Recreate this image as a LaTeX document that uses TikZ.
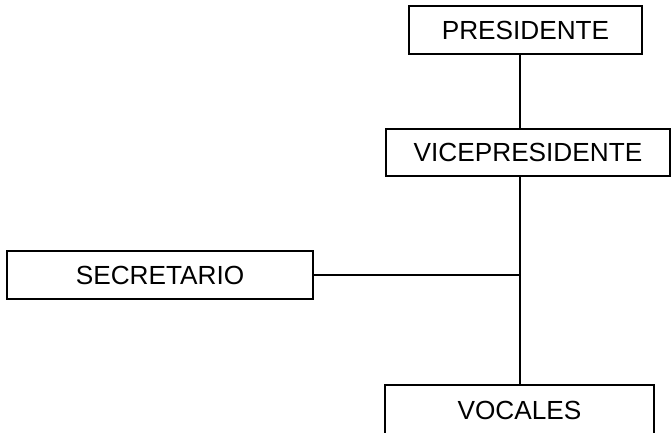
\documentclass[tikz,border=0pt]{standalone}
\usepackage{fontspec}
\setmainfont{Liberation Sans}
\begin{document}
\begin{tikzpicture}[x=1pt,y=1pt,
  box/.style={draw=black,line width=2pt,rectangle,inner sep=0pt,fill=white,
    font=\fontsize{26.2}{31}\selectfont},
  link/.style={draw=black,line width=2pt}]
\useasboundingbox (0,0) rectangle (672,432);
\node[box,minimum width=233,minimum height=48] (pres) at (525.5,402) {PRESIDENTE};
\node[box,minimum width=284,minimum height=47] (vice) at (528,279.5) {VICEPRESIDENTE};
\node[box,minimum width=306,minimum height=48] (sec) at (160,157) {SECRETARIO};
\node[box,minimum width=269,minimum height=50] (voc) at (519.5,22) {VOCALES};
\coordinate (j) at (520,157);
\draw[link] (pres.south -| j) -- (vice.north -| j);
\draw[link] (vice.south -| j) -- (voc.north -| j);
\draw[link] (sec.east) -- (j);
\end{tikzpicture}
\end{document}
